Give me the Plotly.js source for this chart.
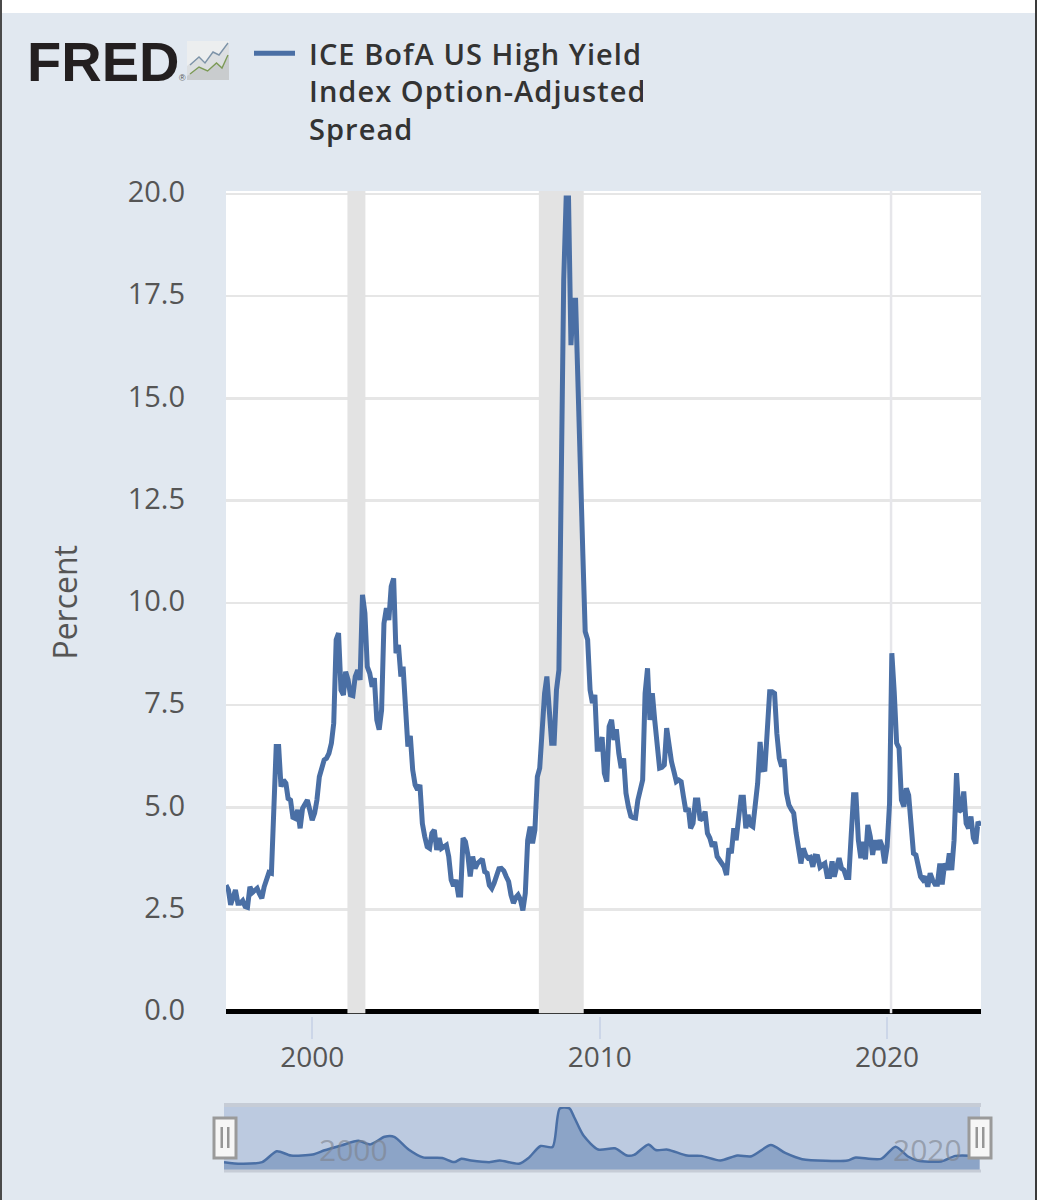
<!DOCTYPE html>
<html>
<head>
<meta charset="utf-8">
<script src="https://cdn.plot.ly/plotly-3.0.1.min.js"></script>
<style>html,body{margin:0;padding:0;background:#e1e8f0}#chart{width:1037px;height:1200px}
.legendtext{letter-spacing:1.05px;transform:translateX(9px)}</style>
</head>
<body>
<div id="chart"></div>
<script>
// Monthly spread values (percent) starting January 1997
const spreadValues = [
3.10,2.98,2.62,2.78,2.98,2.66,2.66,2.72,2.58,2.56,3.06,2.92,
2.97,3.02,2.89,2.78,3.06,3.27,3.41,3.39,5.26,6.49,6.49,5.51,
5.67,5.59,5.22,5.18,4.76,4.73,4.94,4.49,4.98,5.10,5.18,4.94,
4.69,4.86,5.18,5.75,5.92,6.16,6.20,6.32,6.57,7.06,9.10,9.26,
7.87,7.75,8.32,8.12,7.75,7.73,8.20,8.36,8.12,10.20,9.75,8.44,
8.28,7.95,8.16,7.14,6.90,7.38,9.50,9.87,9.58,10.40,10.60,8.77,
8.97,8.20,8.44,7.55,6.49,6.75,5.92,5.55,5.43,5.55,4.61,4.29,
4.04,4.00,4.37,4.45,3.96,4.25,4.00,4.04,4.08,3.80,3.23,3.08,
3.23,2.86,2.86,4.25,4.16,3.84,3.31,3.80,3.51,3.63,3.68,3.74,
3.43,3.39,3.10,3.02,3.15,3.39,3.50,3.51,3.45,3.31,3.19,2.86,
2.66,2.80,2.86,2.74,2.48,2.90,4.20,4.53,4.12,4.45,5.75,5.96,
6.90,7.79,8.20,7.20,6.57,6.57,7.87,8.36,12.50,17.90,19.90,19.90,
16.30,17.40,17.40,15.60,13.00,11.20,9.30,9.10,7.87,7.55,7.75,6.42,
6.42,6.72,5.84,5.63,6.98,7.14,6.65,6.91,6.32,5.96,6.20,5.35,
5.02,4.78,4.75,4.74,5.18,5.51,5.67,7.79,8.40,7.14,7.79,7.14,
6.40,5.96,5.98,6.04,6.94,6.45,6.12,5.88,5.63,5.67,5.63,5.26,
4.90,4.98,4.49,4.61,5.18,5.18,4.69,4.74,4.90,4.37,4.25,4.04,
4.16,3.80,3.72,3.66,3.55,3.35,4.00,3.88,4.49,4.20,4.78,5.25,
5.25,4.49,4.82,4.57,4.53,5.18,5.59,6.60,5.92,5.93,6.98,7.83,
7.83,7.79,6.81,6.20,6.00,6.18,5.35,5.06,4.95,4.86,4.37,4.04,
3.63,4.00,3.84,3.76,3.78,3.55,3.81,3.80,3.54,3.59,3.63,3.31,
3.31,3.68,3.31,3.55,3.76,3.51,3.47,3.29,3.29,4.29,5.31,5.31,
4.20,3.76,4.16,3.73,4.57,4.29,3.84,4.20,3.96,4.20,4.04,3.63,
4.04,5.10,8.77,7.80,6.57,6.45,5.18,5.02,5.47,5.30,4.37,3.88,
3.84,3.47,3.31,3.23,3.31,3.06,3.39,3.23,3.12,3.12,3.63,3.12,
3.63,3.47,3.88,3.47,4.20,5.84,4.90,4.94,5.39,4.61,4.49,4.78,
4.25,4.12,4.65,4.55
];
const startYear = 1997;
const spreadDates = spreadValues.map((_, i) => {
  const y = startYear + Math.floor(i / 12), m = (i % 12) + 1;
  return y + '-' + String(m).padStart(2, '0') + '-01';
});

// Navigator overview, smoothed outline read from the lower strip
const navDates = ['1997-01-01','1997-08-01','1998-05-01','1998-11-01','1999-05-01','2000-02-01','2000-07-01','2001-02-01','2001-09-01','2002-02-01','2002-08-01','2002-12-01','2003-06-01','2003-12-01','2004-08-01','2005-01-01','2005-04-01','2005-08-01','2006-04-01','2006-08-01','2007-04-01','2007-08-01','2008-01-01','2008-06-01','2008-09-01','2009-01-01','2009-03-01','2009-07-01','2010-01-01','2010-08-01','2011-01-01','2011-04-01','2011-10-01','2012-01-01','2012-06-01','2013-02-01','2013-08-01','2014-04-01','2014-11-01','2015-05-01','2016-01-01','2016-07-01','2017-02-01','2018-09-01','2018-12-01','2019-11-01','2020-05-01','2020-10-01','2021-02-01','2021-12-01','2022-06-01','2023-04-01'];
const navValues = [3.0,2.5,3.0,6.3,5.0,5.3,6.6,8.1,9.5,8.4,10.7,10.7,6.85,4.45,4.25,3.0,4.0,3.5,3.0,3.5,2.5,4.25,7.9,7.6,19.35,19.35,16.75,11.0,6.85,7.2,5.0,5.2,8.4,6.7,6.8,5.0,4.9,3.5,5.0,4.8,8.2,5.8,3.9,3.5,4.35,4.0,7.7,4.8,3.5,3.2,4.9,4.8];

const recessions = [['2001-03-24','2001-11-07'],['2007-11-20','2009-06-12']];
const yTickVals = [0,2.5,5,7.5,10,12.5,15,17.5,20];
const yTickText = ['0.0','2.5','5.0','7.5','10.0','12.5','15.0','17.5','20.0'];
const xTickVals = ['2000-01-01','2010-01-01','2020-01-01'];
const xTickText = ['2000','2010','2020'];
const seriesName = 'ICE BofA US High Yield<br>Index Option-Adjusted<br>Spread';

const W = 1037, H = 1200;
// plot area: x 224..981, y 191..1173; paper coordinates are derived from it
const AL = 224, AR = 981, AT = 191, AB = 1173;
const px = x => (x - AL) / (AR - AL), py = y => (AB - y) / (AB - AT);
const FONT = '"Open Sans", sans-serif';
const BLUE = '#4a6fa5';
const xRange = ['1997-01-01','2023-04-08'];
const yRange = [-0.04,20.07], navRange = [0.6,21];

function rectPx(x0, y0, x1, y1, fill, extra) {
  return Object.assign({type:'rect', xref:'paper', yref:'paper', x0:px(x0), x1:px(x1), y0:py(y0), y1:py(y1), fillcolor:fill, line:{width:0}, layer:'above'}, extra||{});
}
function pathPx(pts, color, width, fill) {
  const d = pts.map((p,i)=>(i?'L':'M')+px(p[0])+','+py(p[1])).join(' ') + (fill?' Z':'');
  return {type:'path', xref:'paper', yref:'paper', path:d, line:{color:color||'rgba(0,0,0,0)', width:width||0}, fillcolor:fill||'rgba(0,0,0,0)', layer:'above'};
}

const shapes = [];
recessions.forEach(r => shapes.push({type:'rect', xref:'x', yref:'y', x0:r[0], x1:r[1], y0:yRange[0], y1:yRange[1], fillcolor:'#e3e3e3', line:{width:0}, layer:'between'}));
shapes.push({type:'line', xref:'x', yref:'y', x0:'2020-02-20', x1:'2020-02-20', y0:yRange[0], y1:yRange[1], line:{color:'#e6e6ea', width:2.5}, layer:'between'});
shapes.push({type:'rect', xref:'x2', yref:'y2', x0:xRange[0], x1:xRange[1], y0:navRange[0], y1:navRange[1], fillcolor:'#bccae0', line:{width:0}, layer:'between'});
// page edges
shapes.push(rectPx(0,0,1037,13,'#ffffff'));
shapes.push(rectPx(0,0,2,1200,'#4a4a4a'));
shapes.push(rectPx(1035,0,1037,1200,'#3a3a3a'));
// navigator frame
shapes.push(rectPx(224,1103,981,1107,'#c6ccd6'));
shapes.push(rectPx(224,1169.5,981,1172.5,'#c6ccd6'));
// navigator handles
[[214,236],[969,991]].forEach(h => {
  shapes.push(rectPx(h[0],1118,h[1],1158,'#f6f6f6',{line:{color:'#9a9a9a',width:3}}));
  const c = (h[0]+h[1])/2;
  shapes.push(rectPx(c-4.5,1127,c-2,1148,'#969696'));
  shapes.push(rectPx(c+2,1127,c+4.5,1148,'#969696'));
});
// FRED icon
shapes.push(rectPx(187,41,229,80,'#eceeef',{}));
shapes.push(pathPx([[187,66],[199,57],[205,63],[213,52],[219,55],[229,43],[229,80],[187,80]],null,0,'#dcdfe1'));
shapes.push(pathPx([[187,76],[199,67],[207.6,71],[216.5,63],[222,68],[229,55],[229,80],[187,80]],null,0,'#c9ccce'));
shapes.push(pathPx([[190,65],[199,57],[205,63],[213,52],[219,55],[228,43]],'#7d93a8',1.4));
shapes.push(pathPx([[190,74],[199,67],[207.6,71],[216.5,63],[222,68],[228,55]],'#7c9a56',1.4));

const annotations = [
  {xref:'paper', yref:'paper', x:px(25), y:py(61), xanchor:'left', yanchor:'middle', text:'<b>FRED</b>', showarrow:false, font:{family:'"Liberation Sans", Arial, sans-serif', size:56, color:'#231f20'}},
  {xref:'paper', yref:'paper', x:px(177), y:py(78), xanchor:'left', yanchor:'middle', text:'®', showarrow:false, font:{family:'"Liberation Sans", Arial, sans-serif', size:9, color:'#555'}},
  {xref:'paper', yref:'paper', x:px(353), y:py(1149), xanchor:'center', yanchor:'middle', text:'2000', showarrow:false, font:{family:FONT, size:30, color:'rgba(125,130,140,0.6)'}},
  {xref:'paper', yref:'paper', x:px(927), y:py(1149), xanchor:'center', yanchor:'middle', text:'2020', showarrow:false, font:{family:FONT, size:30, color:'rgba(125,130,140,0.6)'}}
];

const traces = [
  {type:'scatter', mode:'lines', name:seriesName, x:spreadDates, y:spreadValues, xaxis:'x', yaxis:'y',
   line:{color:BLUE, width:5}, hoverinfo:'x+y'},
  {type:'scatter', mode:'lines', name:'Navigator', x:navDates, y:navValues, xaxis:'x2', yaxis:'y2', showlegend:false,
   line:{color:BLUE, width:2.5, shape:'spline', smoothing:0.7}, fill:'tozeroy', fillcolor:'rgba(74,111,165,0.42)', hoverinfo:'skip'}
];

const layout = {
  width:W, height:H, autosize:false,
  margin:{l:AL, r:W-AR, t:AT, b:H-AB, pad:0},
  paper_bgcolor:'#e1e8f0', plot_bgcolor:'#ffffff',
  font:{family:FONT, color:'#555'},
  showlegend:true,
  legend:{x:px(249), y:py(28), xanchor:'left', yanchor:'top', valign:'top', bgcolor:'rgba(0,0,0,0)', borderwidth:0, itemwidth:41,
          font:{family:FONT, size:29, color:'#333', weight:600}},
  xaxis:{domain:[px(226),px(981)], anchor:'y', type:'date', range:xRange,
         tickmode:'array', tickvals:xTickVals, ticktext:xTickText, showgrid:false,
         ticks:'outside', ticklen:22, tickwidth:2, tickcolor:'#ccd6e8', ticklabelstandoff:-5,
         showline:true, linewidth:3, linecolor:'rgba(0,0,0,0)', zeroline:false,
         tickfont:{family:FONT, size:28, color:'#555'}},
  yaxis:{domain:[py(1013.6),py(191)], anchor:'x', range:yRange, automargin:'left',
         tickmode:'array', tickvals:yTickVals, ticktext:yTickText,
         showgrid:true, gridcolor:'#e6e6e6', gridwidth:2.5,
         zeroline:true, zerolinecolor:'#000000', zerolinewidth:5,
         ticks:'', ticklabelstandoff:40, ticklabelshift:-2, showline:false,
         tickfont:{family:FONT, size:29, color:'#555'},
         title:{text:'Percent', font:{family:FONT, size:32, color:'#555'}, standoff:40}},
  xaxis2:{domain:[px(224),px(980)], anchor:'y2', type:'date', range:xRange,
          showgrid:false, showticklabels:false, ticks:'', zeroline:false, fixedrange:true},
  yaxis2:{domain:[py(1170),py(1103)], anchor:'x2', range:navRange,
          showgrid:false, showticklabels:false, ticks:'', zeroline:false, fixedrange:true},
  shapes:shapes, annotations:annotations
};

Plotly.newPlot('chart', traces, layout, {displayModeBar:false, staticPlot:true});
</script>
</body>
</html>
